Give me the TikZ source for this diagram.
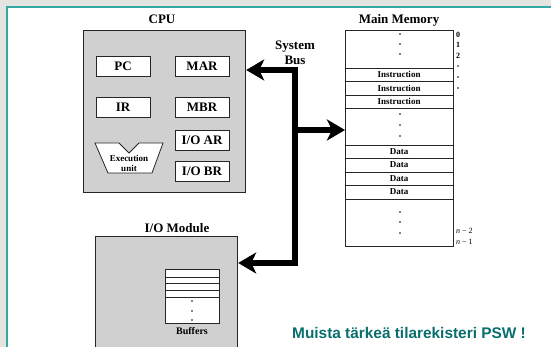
\documentclass[tikz,border=0pt]{standalone}
\usepackage{fontspec}
\setmainfont{Liberation Serif}
\newfontfamily\notefont{Liberation Sans}
\usetikzlibrary{arrows.meta}
\definecolor{bgrey}{HTML}{E4E4E0}
\definecolor{tealline}{HTML}{36A8A3}
\definecolor{panelgrey}{HTML}{D0D0D0}
\definecolor{noteteal}{HTML}{0B6E6E}
\tikzset{
  panel/.style={draw=black!85, line width=1.2pt, fill=panelgrey, inner sep=0pt, anchor=north west},
  reg/.style={draw=black!85, fill=white, line width=0.8pt, minimum width=54pt, minimum height=20pt, inner sep=0pt, font=\bfseries\fontsize{13}{13}\selectfont},
  title/.style={font=\bfseries\fontsize{13}{13}\selectfont, inner sep=0pt},
  small/.style={font=\bfseries\fontsize{9}{9}\selectfont, inner sep=0pt},
  tiny/.style={font=\fontsize{8}{8}\selectfont, inner sep=0pt, anchor=west},
  bus/.style={line width=6pt, line join=miter, draw=black},
  bushead/.style={-{Stealth[length=18pt,width=21pt,inset=5pt]}},
  dot/.style={fill=black}
}
\begin{document}
\begin{tikzpicture}[x=1pt,y=-1pt]
\useasboundingbox (0,0) rectangle (551,347);
\clip (0,0) rectangle (551,347);
% background
\fill[bgrey] (0,0) rectangle (551,347);
\fill[white] (7,7) rectangle (551,347);
\draw[tealline, line width=1.6pt] (7,347) -- (7,7) -- (551,7);

% CPU
\node[title] (cputitle) at (162,19) {CPU};
\node[panel, minimum width=162pt, minimum height=162pt] (cpu) at (83,30) {};
\node[reg] (pc) at (123,66) {PC};
\node[reg] (mar) at (202,66) {MAR};
\node[reg] (ir) at (123,107) {IR};
\node[reg] (mbr) at (202,107) {MBR};
\node[reg] (ioar) at (202,140) {I/O AR};
\node[reg] (iobr) at (202,171) {I/O BR};
% execution unit
\draw[draw=black!85, fill=white, line width=0.8pt]
  (95,143) -- (119,143) -- (129,153) -- (139,143) -- (163,143) -- (152,173) -- (108,173) -- cycle;
\node[small] (exec) at (129,158) {Execution};
\node[small] (execu) at (129,168) {unit};

% Main memory
\node[title] (memtitle) at (399,20) {Main Memory};
\node[draw=black!85, line width=1pt, minimum width=108pt, minimum height=216pt, inner sep=0pt, anchor=north west] (mem) at (345,30) {};
\foreach \y in {68,81,95,108,145,158,172,185,199}
  \draw[black!85, line width=0.9pt] (345,\y) -- (453,\y);
\foreach \y/\t [count=\i] in {74.5/Instruction,88/Instruction,101.5/Instruction,151.5/Data,165/Data,178.5/Data,192/Data}
  \node[small] (cell\i) at (399,\y) {\t};
\foreach \y in {34,44,54,114,125,136,212,222,233}
  \fill[dot] (400,\y) circle (0.9);
\node[tiny] (a0) at (456,35) {\bfseries 0};
\node[tiny] (a1) at (456,45) {\bfseries 1};
\node[tiny] (a2) at (456,56) {\bfseries 2};
\foreach \y in {66,77,88}
  \fill[dot] (458,\y) circle (0.9);
\node[tiny] (an2) at (456,231) {\textit{n} − 2};
\node[tiny] (an1) at (456,242) {\textit{n} − 1};

% System bus
\node[title, align=center] (bustitle) at (295,53) {System\\[2pt]Bus};
\coordinate (bustop) at (295,70);
\coordinate (busmid) at (295,130);
\coordinate (busbot) at (295,263);

% I/O module
\node[title] (iotitle) at (177,228) {I/O Module};
\node[panel, minimum width=142pt, minimum height=125pt] (io) at (95,236) {};
\node[draw=black!85, fill=white, line width=0.8pt, minimum width=54pt, minimum height=54pt, inner sep=0pt, anchor=north west] (buf) at (165,269) {};
\foreach \y in {277,283,290,297}
  \draw[black!85, line width=0.8pt] (165,\y) -- (219,\y);
\foreach \y in {301,311,320}
  \fill[dot] (192,\y) circle (0.9);
\node[font=\bfseries\fontsize{10}{10}\selectfont, inner sep=0pt] (buflabel) at (192,331) {Buffers};

% bus connectors
\draw[bus] (bustop) -- (busbot);
\draw[bus, bushead] ([xshift=3pt]bustop) -- (cpu.east |- bustop);
\draw[bus, bushead] ([xshift=3pt]busbot) -- (io.east |- busbot);
\draw[bus, bushead] (busmid) -- (mem.west |- busmid);

% note
\node[font=\notefont\bfseries\fontsize{15.4}{15.4}\selectfont, text=noteteal, inner sep=0pt] (note) at (409,333) {Muista tärkeä tilarekisteri PSW !};
\end{tikzpicture}
\end{document}
